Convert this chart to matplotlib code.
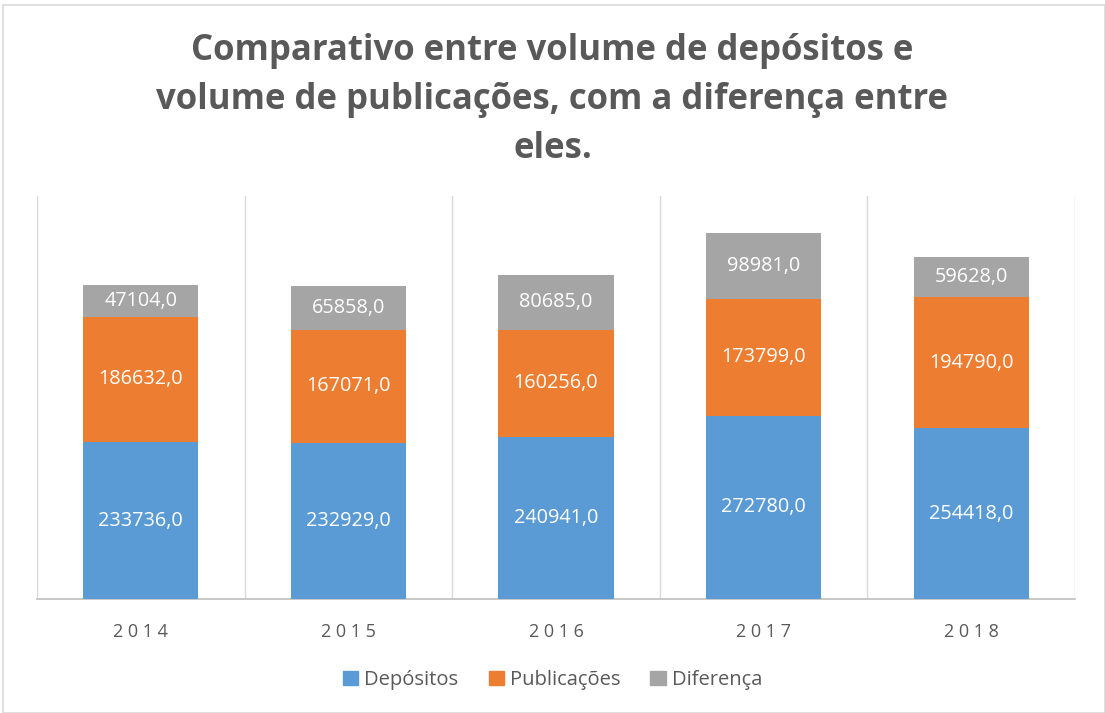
import matplotlib
matplotlib.use("Agg")
import matplotlib.pyplot as plt
from matplotlib.patches import Rectangle
import numpy as np

years = ["2014", "2015", "2016", "2017", "2018"]
depositos = [233736, 232929, 240941, 272780, 254418]
publicacoes = [186632, 167071, 160256, 173799, 194790]
diferenca = [47104, 65858, 80685, 98981, 59628]

series_names = ["Depósitos", "Publicações", "Diferença"]
colors = ["#5B9BD5", "#ED7D31", "#A5A5A5"]

plt.rcParams['font.family'] = ['Open Sans', 'DejaVu Sans']

fig = plt.figure(figsize=(11.05, 7.13), dpi=100)
ax = fig.add_axes([37/1105, 1 - 599/713, (1075-37)/1105, (599-196)/713])

x = np.arange(len(years))
bottom = np.zeros(len(years))
for vals, name, c in zip([depositos, publicacoes, diferenca], series_names, colors):
    ax.bar(x, vals, width=0.555, bottom=bottom, color=c, label=name, zorder=3)
    for xi, b, v in zip(x, bottom, vals):
        ax.text(xi, b + v / 2, f"{v},0", ha="center", va="center",
                color="white", fontsize=14.3, zorder=4)
    bottom = bottom + np.array(vals)

ax.set_xlim(-0.5, len(years) - 0.5)
ax.set_ylim(0, 600000)
ax.set_yticks([])
ax.set_xticks(x)
ax.set_xticklabels([" ".join(y) for y in years], color="#595959", fontsize=13)
ax.tick_params(axis="x", length=0, pad=17)
for sep in np.arange(-0.5, len(years), 1.0):
    ax.axvline(sep, color="#D9D9D9", lw=1, zorder=1)
for s in ["top", "left", "right"]:
    ax.spines[s].set_visible(False)
ax.spines["bottom"].set_color("#BFBFBF")
ax.spines["bottom"].set_linewidth(1.2)

title = "Comparativo entre volume de depósitos e\nvolume de publicações, com a diferença entre\neles."
fig.text(0.5, 1 - 100/713, title, ha="center", va="center", fontsize=25,
         fontweight="bold", color="#595959", linespacing=1.47)

handles = [Rectangle((0, 0), 1, 1, color=c) for c in colors]
fig.legend(handles, series_names, loc="center", bbox_to_anchor=(0.5, 1 - 680/713),
           ncol=3, frameon=False, fontsize=14.5, handlelength=0.75, handleheight=0.75,
           handletextpad=0.3, columnspacing=1.5, labelcolor="#595959")

fig.patches.append(Rectangle((3/1105, 0), 1 - 3/1105, 1 - 5/713, transform=fig.transFigure,
                             fill=False, edgecolor="#D9D9D9", lw=1.2))

fig.savefig("out.png", dpi=100)
